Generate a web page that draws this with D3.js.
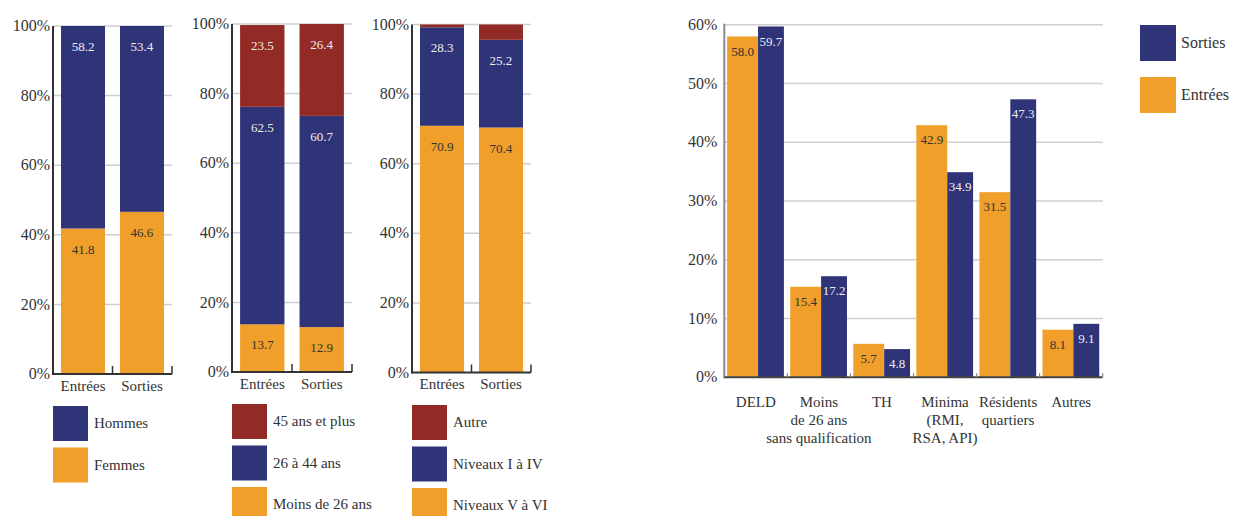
<!DOCTYPE html>
<html><head><meta charset="utf-8">
<script src="https://cdn.jsdelivr.net/npm/d3@7"></script>
<style>
body{margin:0;background:#fff;}
svg{display:block;font-family:"Liberation Serif","Times New Roman",serif;}
</style></head>
<body><svg id="c" width="1234" height="516"></svg>
<script>
// ---- data ----
const stackCats = ["Entrées", "Sorties"];
// Panel 1: sexe
const femmes = [41.8, 46.6];
const hommes = [58.2, 53.4];
// Panel 2: âge
const moins26 = [13.7, 12.9];
const age26a44 = [62.5, 60.7];
const plus45 = [23.5, 26.4];
// Panel 3: niveau
const niveauxVaVI = [70.9, 70.4];
const niveauxIaIV = [28.3, 25.2];
const autre = [0.8, 4.4];
const pctTicks = [0, 20, 40, 60, 80, 100];

// Right chart
const publics = [["DELD"], ["Moins", "de 26 ans", "sans qualification"], ["TH"], ["Minima", "(RMI,", "RSA, API)"], ["Résidents", "quartiers"], ["Autres"]];
const entrees = [58.0, 15.4, 5.7, 42.9, 31.5, 8.1];
const sorties = [59.7, 17.2, 4.8, 34.9, 47.3, 9.1];
const rightTicks = [0, 10, 20, 30, 40, 50, 60];

const NAVY = "#2f3378", ORANGE = "#f09f2a", RED = "#922a25", TXT = "#333";

const svg = d3.select("#c");

function stackedPanel(cfg) {
  const g = svg.append("g");
  const x = d3.scaleBand().domain(stackCats).range([cfg.x0, cfg.x1]).paddingInner(0.254).paddingOuter(0.136);
  const y = d3.scaleLinear().domain([0, 100]).range([cfg.yb, cfg.yt]);
  // grid
  g.selectAll(".grid").data(pctTicks.slice(1)).join("line")
    .attr("x1", cfg.x0).attr("x2", cfg.x1).attr("y1", d => y(d)).attr("y2", d => y(d))
    .attr("stroke", "#cfcfcf").attr("stroke-width", 1.5);
  // tick labels
  g.selectAll(".yl").data(pctTicks).join("text")
    .attr("x", cfg.x0 - 3).attr("y", d => y(d)).attr("dy", "0.32em")
    .attr("text-anchor", "end").attr("font-size", 16).attr("fill", TXT)
    .text(d => d + "%");
  // bars
  let base = stackCats.map(() => 0);
  cfg.series.forEach(s => {
    stackCats.forEach((c, i) => {
      const v = s.values[i];
      const y0 = y(base[i]), y1 = y(base[i] + v);
      g.append("rect").attr("x", x(c)).attr("width", x.bandwidth())
        .attr("y", y1).attr("height", y0 - y1).attr("fill", s.color);
      if (s.label) {
        g.append("text").attr("x", x(c) + x.bandwidth() / 2).attr("y", y1 + 21)
          .attr("dy", "0.32em").attr("text-anchor", "middle").attr("font-size", 13)
          .attr("fill", s.labelColor).text(v.toFixed(1));
      }
      base[i] += v;
    });
  });
  // axes
  g.append("line").attr("x1", cfg.x0).attr("x2", cfg.x1).attr("y1", cfg.yb).attr("y2", cfg.yb)
    .attr("stroke", "#333").attr("stroke-width", 2);
  g.append("line").attr("x1", cfg.x0).attr("x2", cfg.x0).attr("y1", cfg.yt).attr("y2", cfg.yb + 1)
    .attr("stroke", "#333").attr("stroke-width", 2);
  const bounds = [x(stackCats[1]) - (x.step() - x.bandwidth()) / 2, cfg.x1];
  g.selectAll(".tk").data(bounds).join("line")
    .attr("x1", d => d).attr("x2", d => d).attr("y1", cfg.yb - 8).attr("y2", cfg.yb)
    .attr("stroke", "#333").attr("stroke-width", 1.5);
  g.selectAll(".xl").data(stackCats).join("text")
    .attr("x", d => x(d) + x.bandwidth() / 2).attr("y", cfg.yb + 12).attr("dy", "0.32em")
    .attr("text-anchor", "middle").attr("font-size", 15).attr("fill", TXT).text(d => d);
  // legend
  cfg.legend.forEach((l, i) => {
    const ly = cfg.legY + i * 41.5;
    g.append("rect").attr("x", cfg.x0).attr("y", ly).attr("width", 35).attr("height", 35).attr("fill", l.color);
    g.append("text").attr("x", cfg.x0 + 41).attr("y", ly + 17.5).attr("dy", "0.32em")
      .attr("font-size", 15).attr("fill", TXT).text(l.name);
  });
}

stackedPanel({
  x0: 53, x1: 172, yb: 374, yt: 26, legY: 406,
  series: [
    { values: femmes, color: ORANGE, label: true, labelColor: "#333" },
    { values: hommes, color: NAVY, label: true, labelColor: "#eee" }
  ],
  legend: [{ name: "Hommes", color: NAVY }, { name: "Femmes", color: ORANGE }]
});
stackedPanel({
  x0: 232, x1: 352, yb: 372, yt: 24, legY: 404,
  series: [
    { values: moins26, color: ORANGE, label: true, labelColor: "#333" },
    { values: age26a44, color: NAVY, label: true, labelColor: "#eee" },
    { values: plus45, color: RED, label: true, labelColor: "#eee" }
  ],
  legend: [{ name: "45 ans et plus", color: RED }, { name: "26 à 44 ans", color: NAVY }, { name: "Moins de 26 ans", color: ORANGE }]
});
stackedPanel({
  x0: 412, x1: 531, yb: 372.5, yt: 24.5, legY: 405,
  series: [
    { values: niveauxVaVI, color: ORANGE, label: true, labelColor: "#333" },
    { values: niveauxIaIV, color: NAVY, label: true, labelColor: "#eee" },
    { values: autre, color: RED, label: false }
  ],
  legend: [{ name: "Autre", color: RED }, { name: "Niveaux I à IV", color: NAVY }, { name: "Niveaux V à VI", color: ORANGE }]
});

// ---- right grouped chart ----
(function () {
  const g = svg.append("g");
  const X0 = 724.3, X1 = 1102.7, YB = 377.3, YT = 24.7;
  const keys = publics.map(d => d.join(" "));
  const x = d3.scaleBand().domain(keys).range([X0, X1]).padding(0);
  const y = d3.scaleLinear().domain([0, 60]).range([YB, YT]);
  g.selectAll(".grid").data(rightTicks.slice(1)).join("line")
    .attr("x1", X0).attr("x2", X1).attr("y1", d => y(d)).attr("y2", d => y(d))
    .attr("stroke", "#cfcfcf").attr("stroke-width", 1.5);
  g.selectAll(".yl").data(rightTicks).join("text")
    .attr("x", X0 - 7).attr("y", d => y(d)).attr("dy", "0.32em")
    .attr("text-anchor", "end").attr("font-size", 16).attr("fill", TXT).text(d => d + "%");
  const step = x.step();
  const series = [
    { values: entrees, color: ORANGE, a: 0.045, b: 0.535, lc: "#333" },
    { values: sorties, color: NAVY, a: 0.535, b: 0.945, lc: "#eee" }
  ];
  series.forEach(s => {
    keys.forEach((k, i) => {
      const v = s.values[i];
      const bx = x(k) + s.a * step, bw = (s.b - s.a) * step;
      g.append("rect").attr("x", bx).attr("width", bw).attr("y", y(v)).attr("height", YB - y(v)).attr("fill", s.color);
    });
  });
  series.forEach(s => {
    keys.forEach((k, i) => {
      const v = s.values[i];
      const bx = x(k) + s.a * step, bw = (s.b - s.a) * step;
      g.append("text").attr("x", bx + bw / 2).attr("y", y(v) + 15).attr("dy", "0.32em")
        .attr("text-anchor", "middle").attr("font-size", 13).attr("fill", s.lc).text(v.toFixed(1));
    });
  });
  g.append("line").attr("x1", X0).attr("x2", X0).attr("y1", YT - 1).attr("y2", YB + 1)
    .attr("stroke", "#8a8a8a").attr("stroke-width", 2);
  g.append("line").attr("x1", X0).attr("x2", X1).attr("y1", YB).attr("y2", YB)
    .attr("stroke", "#444").attr("stroke-width", 2);
  g.selectAll(".tk").data(keys).join("line")
    .attr("x1", d => x(d) + step).attr("x2", d => x(d) + step).attr("y1", YB - 4).attr("y2", YB)
    .attr("stroke", "#888").attr("stroke-width", 1.2);
  publics.forEach((lines, i) => {
    const t = g.append("text").attr("text-anchor", "middle").attr("font-size", 15).attr("fill", TXT);
    lines.forEach((ln, j) => {
      t.append("tspan").attr("x", x(keys[i]) + step / 2).attr("y", YB + 25 + j * 18).attr("dy", "0.32em").text(ln);
    });
  });
  const leg = [{ name: "Sorties", color: NAVY }, { name: "Entrées", color: ORANGE }];
  leg.forEach((l, i) => {
    const ly = 25 + i * 52;
    g.append("rect").attr("x", 1140).attr("y", ly).attr("width", 36).attr("height", 36).attr("fill", l.color);
    g.append("text").attr("x", 1181).attr("y", ly + 18).attr("dy", "0.32em").attr("font-size", 16).attr("fill", TXT).text(l.name);
  });
})();
</script></body></html>
